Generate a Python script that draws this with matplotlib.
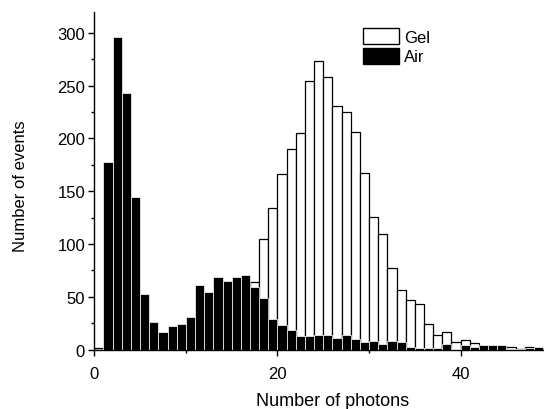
import matplotlib
matplotlib.use("Agg")
import matplotlib.pyplot as plt
from matplotlib.patches import Patch
from matplotlib.ticker import MultipleLocator

plt.rcParams['font.family'] = ['Liberation Sans', 'DejaVu Sans']

# photon-count histogram, bins of width 1 starting at 0
bin_left = list(range(49))
gel = [2, 0, 0, 0, 0, 0, 0, 0, 0, 0,
       0, 0, 0, 0, 0, 0, 0, 64, 105, 134,
       166, 190, 205, 254, 273, 258, 231, 225, 206, 167,
       126, 110, 77, 57, 47, 43, 24, 14, 17, 7,
       9, 6, 3, 2, 2, 3, 1, 3, 2]
air = [0, 178, 296, 243, 145, 53, 26, 17, 22, 24,
       31, 61, 55, 69, 65, 69, 71, 59, 49, 29,
       23, 19, 13, 13, 14, 14, 11, 14, 10, 7,
       8, 5, 8, 7, 3, 2, 2, 2, 5, 1,
       4, 3, 4, 4, 4, 1, 1, 2, 3]

fig = plt.figure(figsize=(5.44, 4.10), dpi=100)
ax = fig.add_axes([0.1733, 0.1446, 0.8267, 0.8244])

ax.bar(bin_left, gel, width=1, align="edge", color="white",
       edgecolor="black", linewidth=0.9, zorder=2)
ax.bar(bin_left, air, width=1, align="edge", color="black",
       edgecolor="white", linewidth=0.5, zorder=3)

ax.set_xlim(0, 49.1)
ax.set_ylim(0, 320)
ax.xaxis.set_major_locator(MultipleLocator(20))
ax.xaxis.set_minor_locator(MultipleLocator(10))
ax.yaxis.set_major_locator(MultipleLocator(50))
ax.yaxis.set_minor_locator(MultipleLocator(25))
ax.tick_params(which="major", direction="out", length=4.6, width=1, labelsize=12)
ax.tick_params(axis="x", which="major", pad=7)
ax.tick_params(axis="y", which="major", pad=2)
ax.tick_params(which="minor", direction="out", length=2.3, width=1)

for s in ("top", "right"):
    ax.spines[s].set_visible(False)
for s in ("left", "bottom"):
    ax.spines[s].set_linewidth(1.0)

ax.set_xlabel("Number of photons", fontsize=13)
ax.xaxis.set_label_coords(0.529, -0.125)
ax.set_ylabel("Number of events", fontsize=12)
ax.yaxis.set_label_coords(-0.148, 0.486)

handles = [Patch(facecolor="white", edgecolor="black", linewidth=1, label="Gel"),
           Patch(facecolor="black", edgecolor="black", label="Air")]
ax.legend(handles=handles, loc="upper left", bbox_to_anchor=(0.597, 0.952),
          frameon=False, fontsize=12, borderpad=0, borderaxespad=0,
          handlelength=2.2, handleheight=1.15, handletextpad=0.3,
          labelspacing=0.16)

fig.savefig("out.png", dpi=100)
